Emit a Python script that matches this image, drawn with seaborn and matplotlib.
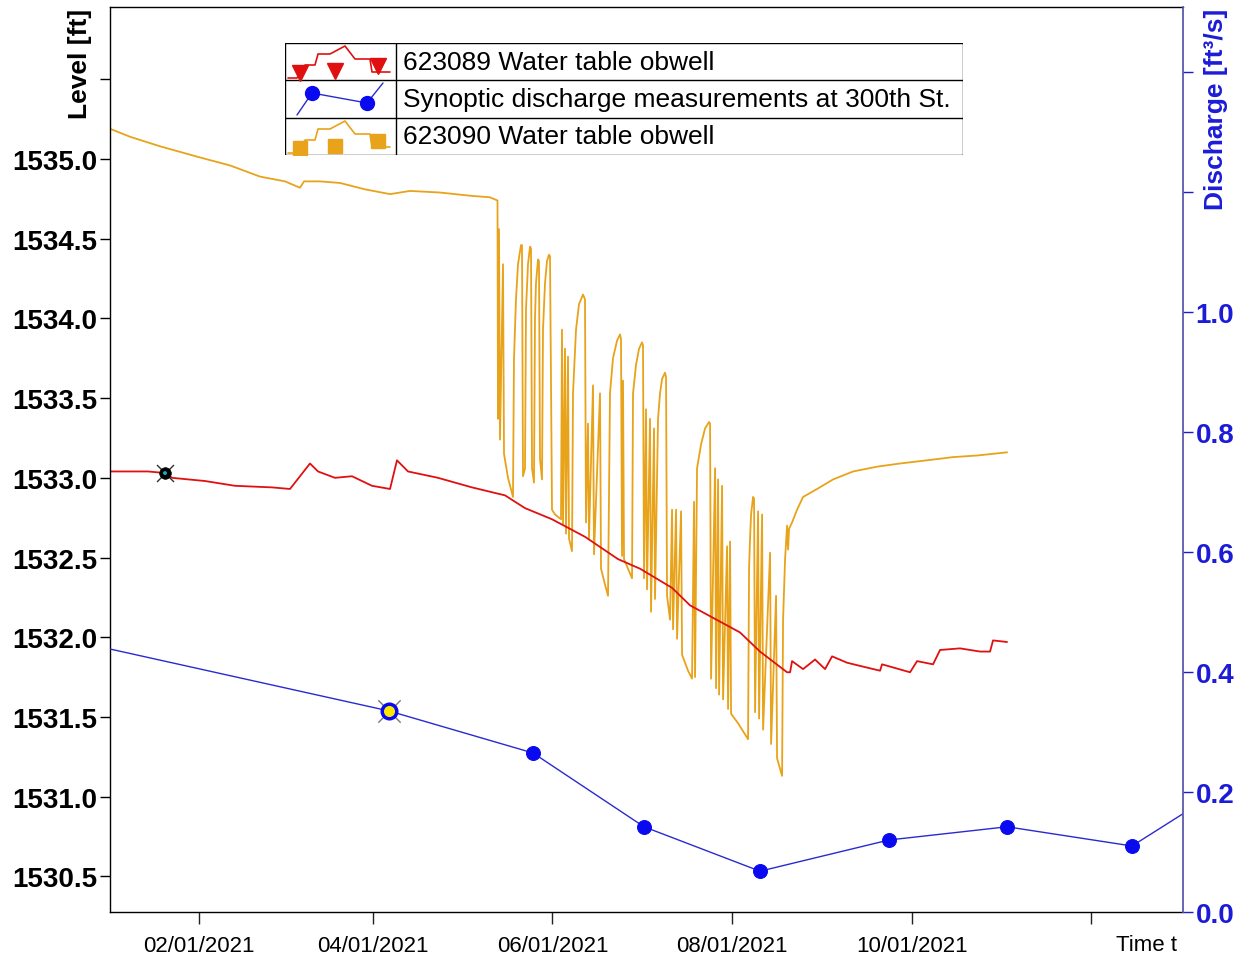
import pandas as pd
import matplotlib
matplotlib.use("Agg")
import matplotlib.pyplot as plt
from matplotlib import font_manager
from matplotlib.patches import Rectangle
import seaborn as sns

START = pd.Timestamp("2021-01-01")

# 623089 Water table obwell: days after 2021-01-01 and level [ft]
red_day = [0.78, 13.68, 19.46, 21.84, 33.04, 43.23, 55.79, 61.90, 68.69, 71.41,
           77.18, 82.95, 89.75, 95.86, 98.23, 101.97, 112.16, 123.70, 134.91, 141.70,
           150.87, 162.07, 173.28, 180.75, 191.61, 197.73, 214.71, 221.50, 230.69, 231.71,
           232.38, 236.12, 240.19, 243.59, 245.97, 251.06, 255.47, 262.26, 262.94, 272.45,
           274.83, 280.26, 282.64, 289.43, 296.22, 299.61, 300.63, 305.39]
red_level = [1533.04, 1533.04, 1533.03, 1533.00, 1532.98, 1532.95, 1532.94, 1532.93, 1533.09, 1533.04,
             1533.00, 1533.01, 1532.95, 1532.93, 1533.11, 1533.04, 1533.00, 1532.94, 1532.89, 1532.81,
             1532.74, 1532.63, 1532.49, 1532.43, 1532.31, 1532.20, 1532.03, 1531.91, 1531.78, 1531.78,
             1531.85, 1531.80, 1531.86, 1531.80, 1531.88, 1531.84, 1531.82, 1531.79, 1531.83, 1531.78,
             1531.85, 1531.83, 1531.92, 1531.93, 1531.91, 1531.91, 1531.98, 1531.97]

# 623090 Water table obwell: days after 2021-01-01 and level [ft]
orange_day = [0.78, 7.57, 17.76, 31.34, 41.53, 51.71, 60.20, 65.30, 66.66, 72.09,
              78.88, 87.37, 95.86, 102.65, 112.83, 123.02, 129.81, 132.36,
              132.53, 132.87, 133.21, 134.23, 134.57, 135.93, 137.62, 137.96, 138.64, 139.32,
              140.34, 140.68, 141.02, 141.70, 142.04, 142.72, 143.40, 143.74, 144.08, 144.75,
              145.09, 145.43, 146.11, 146.45, 146.79, 147.47, 147.81, 148.49, 149.17, 149.85,
              150.19, 150.87, 151.89, 153.92, 154.26, 154.60, 155.28, 155.62, 156.30, 156.64,
              157.66, 158.00, 159.02, 160.04, 161.40, 162.07, 162.41, 163.09, 163.43, 164.79,
              165.13, 167.17, 167.51, 168.87, 169.89, 170.56, 171.58, 172.94, 173.96, 174.30,
              174.64, 174.98, 175.32, 176.68, 178.04, 178.38, 179.40, 180.42, 181.43, 181.77,
              182.11, 182.79, 183.13, 184.15, 184.49, 185.51, 185.85, 186.87, 187.55, 188.23,
              189.25, 189.59, 189.93, 190.95, 191.63, 191.97, 192.99, 193.33, 194.69, 195.03,
              197.06, 198.42, 199.10, 199.44, 200.12, 201.48, 202.84, 204.20, 204.54, 204.88,
              206.24, 206.58, 207.26, 207.60, 208.62, 208.95, 210.31, 210.65, 211.33, 211.67,
              214.05, 216.42, 217.44, 217.78, 218.12, 218.46, 219.14, 219.48, 219.82, 220.84,
              221.18, 222.20, 222.54, 224.92, 225.26, 226.95, 227.29, 228.99, 229.33, 230.01,
              230.69, 231.03, 231.37, 232.38, 234.08, 236.12, 240.87, 246.31, 253.10, 261.25,
              269.06, 278.23, 287.05, 295.20, 305.39]
orange_level = [1535.19, 1535.14, 1535.08, 1535.01, 1534.96, 1534.89, 1534.86, 1534.82, 1534.86, 1534.86,
                1534.85, 1534.81, 1534.78, 1534.80, 1534.79, 1534.77, 1534.76, 1534.74,
                1533.37, 1534.56, 1533.24, 1534.34, 1533.15, 1533.00, 1532.88, 1533.75, 1534.12, 1534.34,
                1534.46, 1534.46, 1533.01, 1533.06, 1534.06, 1534.34, 1534.45, 1534.44, 1533.06, 1532.97,
                1534.00, 1534.22, 1534.37, 1534.36, 1533.12, 1532.99, 1533.93, 1534.22, 1534.36, 1534.40,
                1534.39, 1532.80, 1532.77, 1532.74, 1533.93, 1532.71, 1533.81, 1532.65, 1533.76, 1532.62,
                1532.54, 1533.53, 1533.93, 1534.09, 1534.15, 1534.12, 1532.72, 1533.34, 1532.62, 1533.58,
                1532.52, 1533.53, 1532.43, 1532.33, 1532.26, 1533.53, 1533.75, 1533.86, 1533.90, 1533.87,
                1532.51, 1533.61, 1532.49, 1532.43, 1532.37, 1533.53, 1533.71, 1533.81, 1533.85, 1533.83,
                1532.37, 1533.43, 1532.30, 1533.37, 1532.16, 1533.31, 1532.24, 1533.37, 1533.53, 1533.62,
                1533.66, 1533.63, 1532.26, 1532.11, 1532.80, 1532.05, 1532.80, 1531.99, 1532.79, 1531.89,
                1531.79, 1531.74, 1532.85, 1531.75, 1533.06, 1533.21, 1533.31, 1533.35, 1533.34, 1531.74,
                1533.06, 1531.68, 1532.99, 1531.64, 1532.95, 1531.61, 1532.57, 1531.55, 1532.60, 1531.52,
                1531.46, 1531.39, 1531.36, 1532.43, 1532.62, 1532.77, 1532.88, 1532.87, 1531.53, 1532.79,
                1531.49, 1532.77, 1531.42, 1532.53, 1531.33, 1532.26, 1531.24, 1531.13, 1532.11, 1532.49,
                1532.70, 1532.55, 1532.68, 1532.72, 1532.80, 1532.88, 1532.93, 1532.99, 1533.04, 1533.07,
                1533.09, 1533.11, 1533.13, 1533.14, 1533.16]

# Synoptic discharge measurements at 300th St.: days after 2021-01-01 and discharge [ft3/s]
q_day = [-21.97, 95.52, 144.42, 182.11, 221.50, 265.30, 305.39, 347.83, 379.07]
q_value = [0.463, 0.335, 0.265, 0.142, 0.068, 0.120, 0.142, 0.110, 0.207]

series_names = ["623089 Water table obwell",
                "Synoptic discharge measurements at 300th St.",
                "623090 Water table obwell"]

x_ticks = ["2021-02-01", "2021-04-01", "2021-06-01", "2021-08-01", "2021-10-01", "2021-12-01"]
x_tick_labels = ["02/01/2021", "04/01/2021", "06/01/2021", "08/01/2021", "10/01/2021", ""]
level_ticks = [1530.5, 1531.0, 1531.5, 1532.0, 1532.5, 1533.0, 1533.5, 1534.0, 1534.5, 1535.0, 1535.5]
level_tick_labels = ["1530.5", "1531.0", "1531.5", "1532.0", "1532.5", "1533.0",
                     "1533.5", "1534.0", "1534.5", "1535.0", ""]
q_ticks = [0.0, 0.2, 0.4, 0.6, 0.8, 1.0, 1.2, 1.4]
q_tick_labels = ["0.0", "0.2", "0.4", "0.6", "0.8", "1.0", "", ""]

RED = "#e01010"
ORANGE = "#e8a31a"
BLUE = "#0a0af0"
BLUE_LINE = "#2a2ad0"
AXIS_BLUE = "#1c1cd8"
SPINE_BLUE = "#5a5aa8"


def has_font(name):
    try:
        font_manager.findfont(font_manager.FontProperties(family=name), fallback_to_default=False)
        return True
    except ValueError:
        return False


sns.set_style("white")
plt.rcParams["font.family"] = ["Liberation Sans", "DejaVu Sans"]

if has_font("Liberation Sans Narrow"):
    date_font = dict(family=["Liberation Sans Narrow", "Liberation Sans"], size=19)
else:
    date_font = dict(family=["Liberation Sans", "DejaVu Sans"], size=16)


def to_dates(days):
    return START + pd.to_timedelta(days, unit="D")


red_df = pd.DataFrame({"date": to_dates(red_day), "level": red_level})
orange_df = pd.DataFrame({"date": to_dates(orange_day), "level": orange_level})
q_df = pd.DataFrame({"date": to_dates(q_day), "discharge": q_value})

W, H = 1243, 970
fig = plt.figure(figsize=(W / 100, H / 100), dpi=100)
fig.patch.set_facecolor("white")
ax = fig.add_axes([110 / W, 57 / H, 1073 / W, 905 / H])
ax2 = ax.twinx()

sns.lineplot(data=orange_df, x="date", y="level", ax=ax, color=ORANGE, lw=1.3,
             estimator=None, sort=False)
sns.lineplot(data=red_df, x="date", y="level", ax=ax, color=RED, lw=1.3,
             estimator=None, sort=False)
sns.lineplot(data=q_df, x="date", y="discharge", ax=ax2, color=BLUE_LINE, lw=1.0,
             estimator=None, sort=False, marker="o", markersize=10,
             markerfacecolor=BLUE, markeredgecolor=BLUE)

# selected points
ax.scatter(red_df["date"].iloc[2], red_level[2], s=150, marker="x", color="#333333",
           linewidths=1.0, zorder=5)
ax.scatter(red_df["date"].iloc[2], red_level[2], s=70, marker="o", facecolor="black",
           edgecolor="black", linewidths=0.5, zorder=6)
ax.scatter(red_df["date"].iloc[2], red_level[2], s=8, marker="o", facecolor="#10b0c0",
           edgecolor="none", zorder=7)
ax2.scatter(q_df["date"].iloc[1], q_value[1], s=260, marker="x", color="#777777",
            linewidths=1.0, zorder=5)
ax2.scatter(q_df["date"].iloc[1], q_value[1], s=110, marker="o", facecolor="#ffe800",
            edgecolor=BLUE, linewidths=2.5, zorder=6)

ax.set_xlim(START + pd.Timedelta(days=0.78), START + pd.Timedelta(days=365.13))
ax.set_ylim(1530.276, 1535.954)
ax2.set_ylim(0.0, 1.508)

ax.set_xticks(pd.to_datetime(x_ticks))
ax.set_xticklabels(x_tick_labels, **date_font)
ax.set_yticks(level_ticks)
ax.set_yticklabels(level_tick_labels, fontsize=20, fontweight="bold")
ax2.set_yticks(q_ticks)
ax2.set_yticklabels(q_tick_labels, fontsize=20, fontweight="bold", color=AXIS_BLUE)
ax.set_xlabel("")
ax.set_ylabel("")
ax2.set_ylabel("")

ax.tick_params(axis="x", direction="out", length=8.5, width=1, pad=8, colors="#222222",
               bottom=True)
ax.tick_params(axis="y", direction="out", length=7, width=1, pad=2, colors="black", left=True)
ax2.tick_params(axis="y", direction="out", length=7, width=1, pad=2, colors=AXIS_BLUE, right=True)
for lab in ax.get_xticklabels():
    lab.set_color("black")

for side in ["left", "bottom", "top"]:
    ax.spines[side].set_color("black")
    ax.spines[side].set_linewidth(1.0)
ax.spines["right"].set_visible(False)
for side in ["left", "bottom", "top"]:
    ax2.spines[side].set_visible(False)
ax2.spines["right"].set_color(SPINE_BLUE)
ax2.spines["right"].set_linewidth(1.3)

fig.text(80 / W, 1 - 64 / H, "Level [ft]", rotation=90, ha="center", va="center",
         fontsize=19, fontweight="bold", color="black")
fig.text(1216 / W, 1 - 109 / H, "Discharge [ft³/s]", rotation=90, ha="center", va="center",
         fontsize=19, fontweight="bold", color=AXIS_BLUE)
fig.text(1146 / W, 1 - 946 / H, "Time t", ha="center", va="center", color="black", **date_font)

# boxed legend with sample glyphs
lax = fig.add_axes([285 / W, 1 - 156 / H, 678 / W, 112 / H])
lax.set_xlim(0, 678)
lax.set_ylim(112, 0)
lax.axis("off")
lax.add_patch(Rectangle((0, 0), 678, 112, facecolor="white", edgecolor="black", lw=1.0))
lax.plot([0, 678], [37, 37], color="black", lw=1.0)
lax.plot([0, 678], [74.5, 74.5], color="black", lw=1.0)
lax.plot([111, 111], [0, 112], color="black", lw=1.0)

glyph_x = [3, 12, 20, 30, 33, 45, 60, 70, 85, 87, 105]
glyph_y = [35, 35, 22, 22, 11, 11, 3, 16, 16, 29, 29]
lax.plot(glyph_x, glyph_y, color=RED, lw=1.2)
lax.plot([15, 50, 93], [30, 28, 23], ls="none", marker="v", markersize=11, color=RED)
lax.plot(glyph_x, [v + 75 for v in glyph_y], color=ORANGE, lw=1.2)
lax.plot([15, 50, 93], [105, 103, 98], ls="none", marker="s", markersize=10, color=ORANGE)
lax.plot([12, 27, 82, 98], [72, 50, 60, 40], color=BLUE_LINE, lw=1.0)
lax.plot([27, 82], [50, 60], ls="none", marker="o", markersize=10, color=BLUE)

for i, name in enumerate(series_names):
    lax.text(118, 18.5 + 37.5 * i, name, ha="left", va="center", fontsize=19, color="black")

fig.savefig("out.png", dpi=100, facecolor="white")
